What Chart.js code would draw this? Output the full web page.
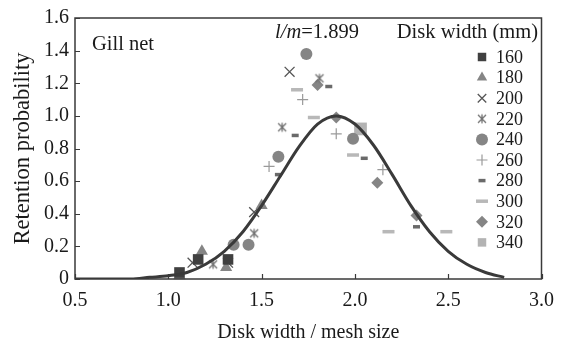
<!DOCTYPE html>
<html><head><meta charset="utf-8">
<script src="https://cdn.jsdelivr.net/npm/chart.js@4.4.1/dist/chart.umd.min.js"></script>
<style>html,body{margin:0;padding:0;background:#fff}#wrap{width:564px;height:347px}</style>
</head><body><div id="wrap"><canvas id="c" width="564" height="347"></canvas></div>
<script>
// ---- data ----
const xTickValues = [0.5, 1.0, 1.5, 2.0, 2.5, 3.0];
const xTickLabels = ['0.5', '1.0', '1.5', '2.0', '2.5', '3.0'];
const yTickValues = [0, 0.2, 0.4, 0.6, 0.8, 1.0, 1.2, 1.4, 1.6];
const yTickLabels = ['0', '0.2', '0.4', '0.6', '0.8', '1.0', '1.2', '1.4', '1.6'];

const seriesNames = ['160', '180', '200', '220', '240', '260', '280', '300', '320', '340'];

const d160 = [[1.06, 0.04], [1.16, 0.12], [1.32, 0.12]];
const d180 = [[1.06, 0.02], [1.18, 0.17], [1.31, 0.07], [1.50, 0.45]];
const d200 = [[1.13, 0.10], [1.32, 0.10], [1.46, 0.41], [1.65, 1.27]];
const d220 = [[1.24, 0.09], [1.46, 0.28], [1.61, 0.93], [1.81, 1.23]];
const d240 = [[1.35, 0.21], [1.43, 0.21], [1.59, 0.75], [1.74, 1.38], [1.99, 0.86]];
const d260 = [[1.54, 0.69], [1.72, 1.10], [1.90, 0.89], [2.15, 0.67]];
const d280 = [[1.59, 0.64], [1.68, 0.88], [1.86, 1.18], [2.05, 0.74], [2.33, 0.32]];
const d300 = [[1.69, 1.16], [1.78, 0.99], [1.99, 0.76], [2.18, 0.29], [2.49, 0.29]];
const d320 = [[1.80, 1.19], [1.90, 0.99], [2.12, 0.59], [2.33, 0.39]];
const d340 = [[2.03, 0.92]];

const curveX = [0.5, 0.6, 0.7, 0.8, 0.9, 1.0, 1.1, 1.2, 1.3, 1.4, 1.5, 1.6, 1.7, 1.8, 1.9, 2.0, 2.1, 2.2, 2.3, 2.4, 2.5, 2.6, 2.7, 2.8];
const curveY = [0.00, 0.00, 0.00, 0.00, 0.01, 0.02, 0.04, 0.09, 0.17, 0.29, 0.45, 0.63, 0.81, 0.95, 1.00, 0.95, 0.82, 0.64, 0.45, 0.29, 0.17, 0.09, 0.04, 0.01];

// ---- styling ----
const FONT = "'Liberation Serif', 'Times New Roman', serif";
const TXT = '#1a1a1a';

function asteriskCanvas(size, color) {
  const c = document.createElement('canvas');
  c.width = size; c.height = size;
  const g = c.getContext('2d');
  g.strokeStyle = color; g.lineWidth = 1.3;
  const m = size / 2, r = size / 2 - 1;
  g.beginPath();
  g.moveTo(m - r * 0.8, m - r * 0.8); g.lineTo(m + r * 0.8, m + r * 0.8);
  g.moveTo(m + r * 0.8, m - r * 0.8); g.lineTo(m - r * 0.8, m + r * 0.8);
  g.moveTo(m, m - r * 0.9); g.lineTo(m, m + r * 0.9);
  g.stroke();
  return c;
}

const styles = [
  { ps: 'rect', r: 7.5, fill: '#404040', stroke: '#404040', bw: 0 },
  { ps: 'triangle', r: 7, fill: '#858585', stroke: '#858585', bw: 0 },
  { ps: 'crossRot', r: 7, fill: '#555555', stroke: '#555555', bw: 1.3 },
  { ps: asteriskCanvas(12, '#707070'), r: 6, fill: '#707070', stroke: '#707070', bw: 1 },
  { ps: 'circle', r: 6, fill: '#858585', stroke: '#858585', bw: 0 },
  { ps: 'cross', r: 5.5, fill: '#9a9a9a', stroke: '#9a9a9a', bw: 1.2 },
  { ps: 'line', r: 3.5, fill: '#6a6a6a', stroke: '#6a6a6a', bw: 3.5 },
  { ps: 'line', r: 6, fill: '#b8b8b8', stroke: '#b8b8b8', bw: 3.5 },
  { ps: 'rectRot', r: 6, fill: '#858585', stroke: '#858585', bw: 0 },
  { ps: 'rect', r: 9, fill: '#b3b3b3', stroke: '#b3b3b3', bw: 0 }
];
const allSeries = [d160, d180, d200, d220, d240, d260, d280, d300, d320, d340];

const datasets = [{
  type: 'line',
  label: 'fit',
  data: curveX.map((x, i) => ({ x: x, y: curveY[i] })),
  borderColor: '#3a3a3a',
  borderWidth: 3,
  pointRadius: 0,
  cubicInterpolationMode: 'monotone',
  fill: false,
  order: 0
}];
allSeries.forEach((arr, i) => {
  const s = styles[i];
  datasets.push({
    type: 'scatter',
    label: seriesNames[i],
    data: arr.map(p => ({ x: p[0], y: p[1] })),
    pointStyle: s.ps,
    pointRadius: s.r,
    pointHoverRadius: s.r,
    backgroundColor: s.fill,
    borderColor: s.stroke,
    pointBorderWidth: s.bw,
    borderWidth: s.bw,
    clip: false,
    order: 1
  });
});

const decor = {
  id: 'decor',
  afterDraw(chart) {
    const ctx = chart.ctx, a = chart.chartArea;
    const xs = chart.scales.x, ys = chart.scales.y;
    ctx.save();
    ctx.strokeStyle = '#3a3a3a';
    ctx.lineWidth = 1.5;
    ctx.strokeRect(a.left, a.top, a.right - a.left, a.bottom - a.top);
    ctx.lineWidth = 1.2;
    ctx.beginPath();
    yTickValues.forEach(v => {
      const y = Math.round(ys.getPixelForValue(v)) + 0.5;
      ctx.moveTo(a.left, y); ctx.lineTo(a.left + 5, y);
    });
    xTickValues.forEach(v => {
      const x = Math.round(xs.getPixelForValue(v)) + 0.5;
      ctx.moveTo(x, a.bottom); ctx.lineTo(x, a.bottom - 5);
    });
    ctx.stroke();

    // annotations
    ctx.fillStyle = TXT;
    ctx.textBaseline = 'middle';
    ctx.textAlign = 'left';
    ctx.font = '20.5px ' + FONT;
    ctx.fillText('Gill net', 92, 45);
    ctx.font = 'italic 20.5px ' + FONT;
    const lm = 'l/m';
    ctx.fillText(lm, 275, 33);
    const w1 = ctx.measureText(lm).width;
    ctx.font = '20.5px ' + FONT;
    ctx.fillText('=1.899', 275 + w1, 33);
    ctx.textAlign = 'right';
    ctx.font = '20.5px ' + FONT;
    ctx.fillText('Disk width (mm)', 538, 33);

    // legend
    ctx.textAlign = 'left';
    seriesNames.forEach((name, i) => {
      const s = styles[i];
      const y = 57 + i * 20.6;
      ctx.fillStyle = s.fill; ctx.strokeStyle = s.stroke; ctx.lineWidth = s.bw;
      const r = (s.ps === 'rect') ? 6 : (s.ps === 'line' ? (i === 6 ? 3.5 : 6) : Math.min(s.r, 6));
      Chart.helpers.drawPoint(ctx, { pointStyle: s.ps, radius: r, rotation: 0, borderWidth: s.bw }, 482, y);
      ctx.fillStyle = TXT;
      ctx.font = '18px ' + FONT;
      ctx.fillText(name, 496, y + 1);
    });
    ctx.restore();
  }
};

new Chart(document.getElementById('c'), {
  data: { datasets: datasets },
  options: {
    responsive: false,
    animation: false,
    layout: { padding: { left: 0, right: 22, top: 15, bottom: 0 } },
    plugins: { legend: { display: false }, tooltip: { enabled: false } },
    scales: {
      x: {
        type: 'linear', min: 0.5, max: 3.0,
        afterBuildTicks: s => { s.ticks = xTickValues.map(v => ({ value: v })); },
        afterFit: s => { s.height = 68; },
        grid: { display: false, drawTicks: false },
        border: { display: false },
        ticks: {
          padding: 10, color: TXT, font: { family: FONT, size: 20 },
          callback: (v) => { const i = xTickValues.indexOf(v); return i >= 0 ? xTickLabels[i] : ''; }
        },
        title: { display: true, text: 'Disk width / mesh size', color: TXT, font: { family: FONT, size: 20 }, padding: { top: 8, bottom: 2 } }
      },
      y: {
        type: 'linear', min: 0, max: 1.6,
        afterBuildTicks: s => { s.ticks = yTickValues.map(v => ({ value: v })); },
        afterFit: s => { s.width = 75; },
        grid: { display: false, drawTicks: false },
        border: { display: false },
        ticks: {
          padding: 6, color: TXT, font: { family: FONT, size: 20 },
          callback: (v) => { const i = yTickValues.findIndex(t => Math.abs(t - v) < 1e-9); return i >= 0 ? yTickLabels[i] : ''; }
        },
        title: { display: true, text: 'Retention probability', color: TXT, font: { family: FONT, size: 22.5 }, padding: { top: 10, bottom: 4 } }
      }
    }
  },
  plugins: [decor]
});
</script>
</body></html>
